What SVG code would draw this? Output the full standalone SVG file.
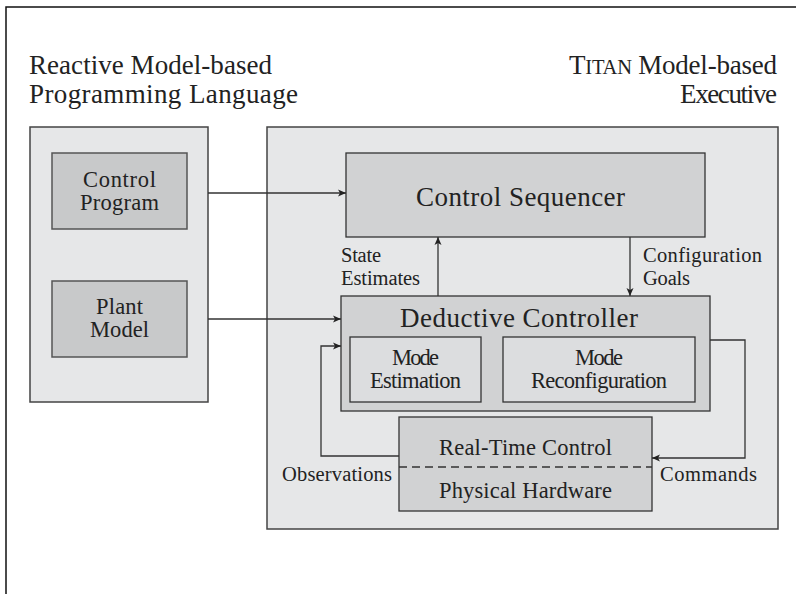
<svg xmlns="http://www.w3.org/2000/svg" width="796" height="594" viewBox="0 0 796 594">
  <style>
    text { font-family: "Liberation Serif", "Times New Roman", serif; fill: #222; }
    .title { font-size: 27px; }
    .big { font-size: 27px; }
    .box { font-size: 22.5px; }
    .lbl { font-size: 20.5px; }
    .panel { fill: #e6e7e8; stroke: #444; stroke-width: 1.5; }
    .src { fill: #c8c9ca; stroke: #555; stroke-width: 1.5; }
    .mid { fill: #d1d2d3; stroke: #333; stroke-width: 1.3; }
    .sub { fill: #dcdddf; stroke: #333; stroke-width: 1.3; }
    .wire { fill: none; stroke: #333; stroke-width: 1.3; }
  </style>
  <defs>
    <marker id="arrow" markerUnits="userSpaceOnUse" markerWidth="10" markerHeight="10" refX="9" refY="5" orient="auto">
      <path d="M1,1.5 L9,5 L1,8.5 L3,5 Z" fill="#222"/>
    </marker>
  </defs>

  <!-- page frame -->
  <path d="M6,594 V7 H796" fill="none" stroke="#111" stroke-width="1.5"/>

  <!-- column headings -->
  <g id="heading-language">
    <text class="title" x="29" y="74" textLength="243">Reactive Model-based</text>
    <text class="title" x="29" y="103" textLength="269">Programming Language</text>
  </g>
  <g id="heading-executive">
    <text class="title" x="569" y="74" textLength="208">T<tspan font-size="20.5">ITAN</tspan> Model-based</text>
    <text class="title" x="680" y="103" textLength="97">Executive</text>
  </g>

  <!-- language panel -->
  <g id="language-panel">
    <rect class="panel" x="30" y="127" width="178" height="275"/>
  </g>
  <g id="control-program">
    <rect class="src" x="52" y="153" width="135" height="76"/>
    <text class="box" x="83" y="187" textLength="73">Control</text>
    <text class="box" x="80" y="210" textLength="79">Program</text>
  </g>
  <g id="plant-model">
    <rect class="src" x="52" y="281" width="135" height="76"/>
    <text class="box" x="96" y="314" textLength="47">Plant</text>
    <text class="box" x="90" y="337" textLength="59">Model</text>
  </g>

  <!-- executive panel -->
  <g id="executive-panel">
    <rect class="panel" x="267" y="127" width="511" height="402"/>
  </g>
  <g id="control-sequencer">
    <rect class="mid" x="346" y="153" width="359" height="84"/>
    <text class="big" x="416" y="206" textLength="209">Control Sequencer</text>
  </g>
  <g id="deductive-controller">
    <rect class="mid" x="341" y="296" width="369" height="115"/>
    <text class="big" x="400" y="327" textLength="238">Deductive Controller</text>
  </g>
  <g id="mode-estimation">
    <rect class="sub" x="350" y="337" width="131" height="65"/>
    <text class="box" x="392" y="365" textLength="47">Mode</text>
    <text class="box" x="370" y="388" textLength="91">Estimation</text>
  </g>
  <g id="mode-reconfiguration">
    <rect class="sub" x="503" y="337" width="192" height="65"/>
    <text class="box" x="575" y="365" textLength="48">Mode</text>
    <text class="box" x="531" y="388" textLength="136">Reconfiguration</text>
  </g>
  <g id="real-time-control">
    <rect class="mid" x="399" y="417" width="253" height="94"/>
    <line x1="399" y1="467" x2="652" y2="467" stroke="#333" stroke-width="1.3" stroke-dasharray="8,5"/>
    <text class="box" x="439" y="455" textLength="173">Real-Time Control</text>
    <text class="box" x="439" y="498" textLength="173">Physical Hardware</text>
  </g>

  <!-- connectors -->
  <g id="connectors">
    <path class="wire" d="M208,193 H346" marker-end="url(#arrow)"/>
    <path class="wire" d="M208,319 H341" marker-end="url(#arrow)"/>
    <path class="wire" d="M438,296 V237" marker-end="url(#arrow)"/>
    <path class="wire" d="M630,237 V296" marker-end="url(#arrow)"/>
    <path class="wire" d="M399,456 H321 V346 H341" marker-end="url(#arrow)"/>
    <path class="wire" d="M710,340 H745 V458 H652" marker-end="url(#arrow)"/>
  </g>

  <!-- connector labels -->
  <g id="connector-labels">
    <text class="lbl" x="341" y="262" textLength="40">State</text>
    <text class="lbl" x="341" y="285" textLength="79">Estimates</text>
    <text class="lbl" x="643" y="262" textLength="119">Configuration</text>
    <text class="lbl" x="643" y="285" textLength="47">Goals</text>
    <text class="lbl" x="282" y="481" textLength="110">Observations</text>
    <text class="lbl" x="660" y="481" textLength="97">Commands</text>
  </g>
</svg>
